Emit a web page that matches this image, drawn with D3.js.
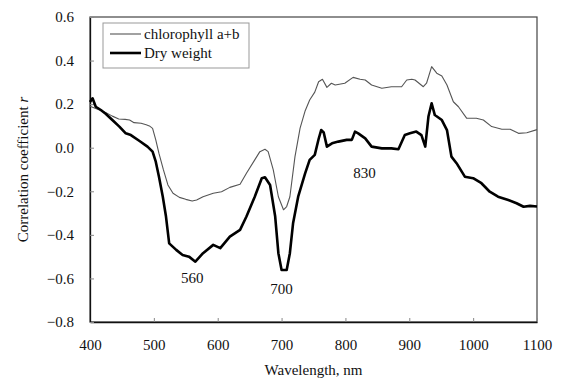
<!DOCTYPE html>
<html lang="en">
<head>
<meta charset="utf-8">
<title>correlation spectrum</title>
<script src="https://cdn.jsdelivr.net/npm/d3@7"></script>
<style>
  body { margin: 0; background: #fff; }
  svg text { font-family: "Liberation Serif", "Times New Roman", "DejaVu Serif", serif; fill: #111; }
</style>
</head>
<body>
<script>
// chart size
var w = 566, h = 378;
var margin = {top: 17, right: 29, bottom: 56, left: 90};
var serif = "'Liberation Serif', 'Times New Roman', 'DejaVu Serif', serif";
var fs = 15;

// tick labels
var xTicks = [400, 500, 600, 700, 800, 900, 1000, 1100];
var yTicks = [-0.8, -0.6, -0.4, -0.2, 0.0, 0.2, 0.4, 0.6];

// chlorophyll a+b series
var chlWl = [400, 405, 415, 425, 435, 445, 455, 462, 469, 480, 488, 493, 498, 503, 508, 515, 522, 530, 540, 550,
  560, 567, 577, 593, 606, 619, 635, 645, 658, 666, 674, 679, 687, 695, 703, 708, 713, 721, 729, 737,
  744, 752, 758, 764, 771, 778, 784, 799, 812, 823, 831, 841, 857, 872, 888, 896, 904, 909, 922, 927,
  935, 943, 951, 959, 969, 977, 990, 1005, 1016, 1029, 1045, 1058, 1071, 1084, 1100];
var chlR = [0.19, 0.185, 0.173, 0.161, 0.145, 0.132, 0.13, 0.127, 0.115, 0.112, 0.105, 0.1, 0.089, 0.036, -0.026, -0.102, -0.171, -0.209, -0.228, -0.237,
  -0.245, -0.24, -0.225, -0.209, -0.202, -0.182, -0.168, -0.117, -0.056, -0.018, -0.007, -0.018, -0.102, -0.225, -0.285, -0.27, -0.225, -0.041, 0.09, 0.17,
  0.219, 0.255, 0.303, 0.314, 0.277, 0.296, 0.288, 0.296, 0.323, 0.314, 0.311, 0.288, 0.273, 0.28, 0.28, 0.311, 0.314, 0.311, 0.28, 0.296,
  0.372, 0.342, 0.329, 0.288, 0.211, 0.188, 0.135, 0.135, 0.127, 0.097, 0.085, 0.085, 0.066, 0.069, 0.083];

// dry weight series
var dwWl = [400, 404, 409, 417, 425, 435, 446, 456, 464, 477, 490, 498, 503, 508, 514, 519, 524, 535, 545, 555,
  565, 577, 593, 604, 619, 635, 645, 658, 669, 674, 682, 690, 695, 700, 708, 713, 718, 726, 737, 744,
  752, 758, 762, 766, 771, 779, 789, 802, 810, 815, 820, 831, 841, 857, 872, 883, 893, 901, 911, 919,
  925, 930, 935, 940, 951, 959, 966, 974, 987, 1000, 1013, 1026, 1039, 1055, 1068, 1079, 1089, 1100];
var dwR = [0.21, 0.227, 0.188, 0.173, 0.155, 0.127, 0.097, 0.066, 0.058, 0.032, 0.005, -0.018, -0.064, -0.133, -0.225, -0.316, -0.439, -0.469, -0.492, -0.5,
  -0.523, -0.484, -0.446, -0.461, -0.408, -0.377, -0.316, -0.225, -0.14, -0.136, -0.171, -0.316, -0.484, -0.561, -0.561, -0.484, -0.347, -0.225, -0.117, -0.056,
  -0.033, 0.04, 0.081, 0.07, 0.005, 0.02, 0.028, 0.036, 0.036, 0.074, 0.066, 0.043, 0.005, -0.003, -0.003, -0.007, 0.058, 0.066, 0.074, 0.058,
  0.005, 0.143, 0.204, 0.15, 0.127, 0.081, -0.041, -0.071, -0.133, -0.14, -0.163, -0.202, -0.225, -0.24, -0.255, -0.271, -0.267, -0.27];

// peak labels (wavelength, and r where the label sits)
var peakNm = [560, 700, 830];
var peakR = [-0.62, -0.67, -0.14];

var series = [
  {name: "chlorophyll a+b", wl: chlWl, r: chlR, color: "#555", width: 1.1},
  {name: "Dry weight", wl: dwWl, r: dwR, color: "#000", width: 2.6}
];

var x = d3.scaleLinear().domain([400, 1100]).range([margin.left, w - margin.right]);
var y = d3.scaleLinear().domain([-0.8, 0.6]).range([h - margin.bottom, margin.top]);

var svg = d3.select("body").append("svg").attr("width", w).attr("height", h);

// frame
svg.append("rect")
  .attr("x", x(400)).attr("y", y(0.6))
  .attr("width", x(1100) - x(400)).attr("height", y(-0.8) - y(0.6))
  .attr("fill", "none").attr("stroke", "#444").attr("stroke-width", 1.2);

// x axis, ticks inside
var xAxis = d3.axisBottom(x).tickValues(xTicks).tickSizeInner(-4).tickSizeOuter(0).tickPadding(17)
  .tickFormat(d3.format("d"));
var gx = svg.append("g").attr("transform", "translate(0," + y(-0.8) + ")").call(xAxis)
  .attr("font-family", serif).attr("font-size", fs);
gx.select(".domain").attr("stroke", "#111").attr("stroke-width", 1.3);
gx.selectAll(".tick line").attr("stroke", "#888");
gx.selectAll("text").attr("fill", "#111");

// y axis, ticks inside
var yAxis = d3.axisLeft(y).tickValues(yTicks).tickSizeInner(-4).tickSizeOuter(0).tickPadding(16)
  .tickFormat(d3.format(".1f"));
var gy = svg.append("g").attr("transform", "translate(" + x(400) + ",0)").call(yAxis)
  .attr("font-family", serif).attr("font-size", fs);
gy.select(".domain").attr("stroke", "#111").attr("stroke-width", 1.3);
gy.selectAll(".tick line").attr("stroke", "#888");
gy.selectAll("text").attr("fill", "#111");

// lines
var line = d3.line().x(function(d) { return x(d[0]); }).y(function(d) { return y(d[1]); });
series.forEach(function(s) {
  var pts = s.wl.map(function(v, i) { return [v, s.r[i]]; });
  svg.append("path").datum(pts)
    .attr("d", line)
    .attr("fill", "none")
    .attr("stroke", s.color)
    .attr("stroke-width", s.width)
    .attr("stroke-linejoin", "round");
});

// peak annotations
peakNm.forEach(function(p, i) {
  svg.append("text")
    .attr("x", x(p)).attr("y", y(peakR[i]))
    .attr("text-anchor", "middle").attr("font-size", fs)
    .text(p);
});

// legend
var lg = svg.append("g").attr("transform", "translate(103,23)");
lg.append("rect").attr("width", 146).attr("height", 45)
  .attr("fill", "#fff").attr("stroke", "#999").attr("stroke-width", 1);
series.forEach(function(s, i) {
  var yy = 11 + i * 19;
  lg.append("line").attr("x1", 7).attr("x2", 38).attr("y1", yy).attr("y2", yy)
    .attr("stroke", s.color).attr("stroke-width", s.width);
  lg.append("text").attr("x", 41).attr("y", yy + 5).attr("font-size", fs).text(s.name);
});

// axis titles
svg.append("text")
  .attr("x", (x(400) + x(1100)) / 2).attr("y", 375)
  .attr("text-anchor", "middle").attr("font-size", fs)
  .text("Wavelength, nm");

var yt = svg.append("text")
  .attr("transform", "translate(28," + ((y(-0.8) + y(0.6)) / 2) + ") rotate(-90)")
  .attr("text-anchor", "middle").attr("font-size", fs);
yt.append("tspan").text("Correlation coefficient ");
yt.append("tspan").attr("font-style", "italic").text("r");
</script>
</body>
</html>
